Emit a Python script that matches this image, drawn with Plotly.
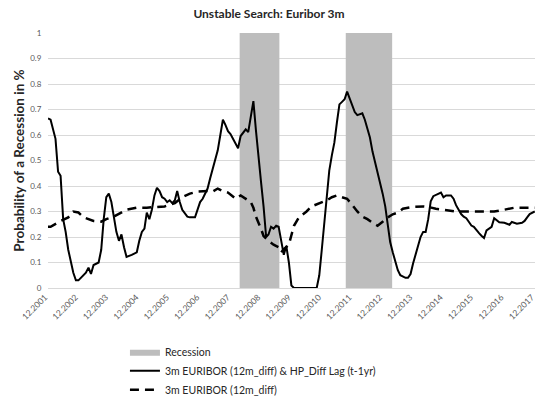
import plotly.graph_objects as go

# ---- data ----
solid_dates = [
    "2001-12", "2002-01", "2002-03", "2002-04", "2002-05", "2002-06", "2002-07", "2002-08",
    "2002-10", "2002-11", "2002-12", "2003-02", "2003-03", "2003-04", "2003-05", "2003-06",
    "2003-08", "2003-09", "2003-10", "2003-11", "2003-12", "2004-01", "2004-02", "2004-03",
    "2004-04", "2004-05", "2004-06", "2004-07", "2004-09", "2004-11", "2004-12", "2005-01",
    "2005-02", "2005-03", "2005-04", "2005-05", "2005-06", "2005-07", "2005-08", "2005-09",
    "2005-10", "2005-11", "2005-12", "2006-01", "2006-02", "2006-03", "2006-04", "2006-05",
    "2006-07", "2006-08", "2006-10", "2006-11", "2006-12", "2007-01", "2007-03", "2007-04",
    "2007-05", "2007-07", "2007-08", "2007-09", "2007-10", "2007-11", "2007-12", "2008-02",
    "2008-03", "2008-04", "2008-06", "2008-07", "2008-08", "2008-09", "2008-10", "2008-11",
    "2008-12", "2009-01", "2009-02", "2009-03", "2009-04", "2009-05", "2009-06", "2009-07",
    "2009-08", "2009-09", "2009-10", "2009-11", "2009-12", "2010-01", "2010-10", "2010-11",
    "2010-12", "2011-01", "2011-02", "2011-03", "2011-04", "2011-05", "2011-06", "2011-07",
    "2011-08", "2011-09", "2011-10", "2011-11", "2011-12", "2012-01", "2012-02", "2012-03",
    "2012-04", "2012-05", "2012-06", "2012-07", "2012-08", "2012-09", "2012-10", "2012-11",
    "2012-12", "2013-01", "2013-02", "2013-03", "2013-04", "2013-05", "2013-06", "2013-07",
    "2013-08", "2013-09", "2013-10", "2013-11", "2013-12", "2014-01", "2014-02", "2014-03",
    "2014-04", "2014-05", "2014-06", "2014-07", "2014-08", "2014-09", "2014-10", "2014-11",
    "2014-12", "2015-01", "2015-03", "2015-04", "2015-05", "2015-06", "2015-07", "2015-08",
    "2015-09", "2015-10", "2015-11", "2015-12", "2016-01", "2016-02", "2016-03", "2016-04",
    "2016-05", "2016-06", "2016-07", "2016-08", "2016-09", "2016-10", "2016-12", "2017-02",
    "2017-03", "2017-05", "2017-07", "2017-08", "2017-09", "2017-10", "2017-12",
]
solid_values = [
    0.665, 0.66, 0.585, 0.456, 0.44, 0.27, 0.22, 0.15,
    0.06, 0.03, 0.03, 0.05, 0.06, 0.08, 0.055, 0.09,
    0.10, 0.15, 0.27, 0.356, 0.37, 0.337, 0.27, 0.22,
    0.185, 0.21, 0.16, 0.122, 0.13, 0.14, 0.185, 0.22,
    0.233, 0.296, 0.27, 0.307, 0.363, 0.393, 0.38, 0.356,
    0.35, 0.337, 0.344, 0.333, 0.344, 0.38, 0.337, 0.307,
    0.28, 0.277, 0.277, 0.307, 0.337, 0.35, 0.39, 0.43,
    0.467, 0.54, 0.60, 0.66, 0.64, 0.615, 0.604, 0.567,
    0.548, 0.596, 0.622, 0.611, 0.678, 0.733, 0.62, 0.53,
    0.418, 0.32, 0.20, 0.21, 0.24, 0.233, 0.244, 0.24,
    0.18, 0.13, 0.165, 0.10, 0.01, 0.0, 0.0, 0.05,
    0.15, 0.25, 0.37, 0.46, 0.52, 0.57, 0.65, 0.72,
    0.73, 0.74, 0.77, 0.74, 0.715, 0.69, 0.678, 0.68,
    0.685, 0.66, 0.625, 0.59, 0.535, 0.495, 0.45, 0.41,
    0.37, 0.32, 0.25, 0.18, 0.14, 0.11, 0.07, 0.05,
    0.045, 0.04, 0.04, 0.055, 0.096, 0.13, 0.17, 0.20,
    0.22, 0.22, 0.27, 0.34, 0.36, 0.365, 0.37, 0.374,
    0.356, 0.363, 0.363, 0.35, 0.325, 0.305, 0.29, 0.28,
    0.274, 0.26, 0.245, 0.24, 0.226, 0.215, 0.205, 0.196,
    0.226, 0.233, 0.24, 0.274, 0.265, 0.258, 0.256, 0.248,
    0.259, 0.252, 0.256, 0.263, 0.277, 0.29, 0.30,
]

dashed_dates = [
    "2001-12", "2002-01", "2002-05", "2002-08", "2002-10", "2002-12", "2003-02", "2003-04",
    "2003-06", "2003-09", "2003-11", "2004-02", "2004-05", "2004-07", "2004-11", "2005-03",
    "2005-07", "2005-10", "2006-02", "2006-05", "2006-08", "2006-11", "2007-03", "2007-05",
    "2007-07", "2007-09", "2007-11", "2008-02", "2008-04", "2008-06", "2008-08", "2008-09",
    "2008-10", "2008-12", "2009-01", "2009-03", "2009-05", "2009-07", "2009-08", "2009-09",
    "2009-11", "2009-12", "2010-01", "2010-03", "2010-06", "2010-08", "2010-11", "2011-02",
    "2011-04", "2011-06", "2011-08", "2011-10", "2011-12", "2012-02", "2012-04", "2012-06",
    "2012-08", "2012-10", "2012-12", "2013-02", "2013-04", "2013-06", "2013-08", "2013-12",
    "2014-04", "2014-06", "2014-09", "2015-01", "2015-05", "2015-09", "2015-12", "2016-04",
    "2016-08", "2016-12", "2017-04", "2017-08", "2017-12",
]
dashed_values = [
    0.24, 0.24, 0.263, 0.277, 0.30, 0.296, 0.277, 0.27,
    0.263, 0.26, 0.27, 0.28, 0.296, 0.307, 0.315, 0.315,
    0.318, 0.32, 0.333, 0.356, 0.37, 0.378, 0.38, 0.378,
    0.39, 0.38, 0.374, 0.35, 0.363, 0.35, 0.337, 0.315,
    0.28, 0.233, 0.204, 0.185, 0.17, 0.16, 0.14, 0.152,
    0.17, 0.207, 0.244, 0.277, 0.30, 0.32, 0.333, 0.344,
    0.356, 0.363, 0.356, 0.35, 0.326, 0.30, 0.28, 0.27,
    0.256, 0.244, 0.26, 0.277, 0.289, 0.296, 0.311, 0.318,
    0.32, 0.318, 0.311, 0.304, 0.30, 0.30, 0.30, 0.30,
    0.30, 0.307, 0.315, 0.315, 0.315,
]

recession_starts = ["2008-03-20", "2011-09-15"]
recession_ends = ["2009-07-10", "2013-03-25"]

title_text = "Unstable Search: Euribor 3m"
y_title = "Probability of a Recession in %"
name_recession = "Recession"
name_solid = "3m EURIBOR (12m_diff) & HP_Diff Lag (t-1yr)"
name_dashed = "3m EURIBOR (12m_diff)"

# ---- build recession polygons ----
rx, ry = [], []
for s, e in zip(recession_starts, recession_ends):
    rx += [s, s, e, e, s, None]
    ry += [0, 1, 1, 0, 0, None]

FONT = "Lato, 'Open Sans', sans-serif"

fig = go.Figure()
fig.add_trace(go.Scatter(
    x=rx, y=ry, mode="lines", fill="toself", fillcolor="#bdbdbd",
    line=dict(width=0, color="#bdbdbd"), name=name_recession, hoverinfo="skip",
))
fig.add_trace(go.Scatter(
    x=solid_dates, y=solid_values, mode="lines", name=name_solid,
    line=dict(color="black", width=2),
))
fig.add_trace(go.Scatter(
    x=dashed_dates, y=dashed_values, mode="lines", name=name_dashed,
    line=dict(color="black", width=2.5, dash="9px,6px"),
))

fig.update_layout(
    width=538, height=407,
    margin=dict(l=48, r=3, t=33, b=104),
    paper_bgcolor="white", plot_bgcolor="white",
    font=dict(family=FONT, color="#404040"),
    title=dict(text="<b>" + title_text + "</b>", x=0.5, xanchor="center",
               y=0.965, yanchor="middle", font=dict(size=12, color="#262626")),
    showlegend=True,
    legend=dict(
        orientation="v", x=0.158, xanchor="left", y=-0.193, yanchor="top",
        font=dict(size=10.5, color="#262626"), itemwidth=30, tracegroupgap=0,
        bgcolor="rgba(0,0,0,0)",
    ),
    xaxis=dict(
        type="date", range=["2001-12-01", "2017-12-04"],
        tick0="2001-12-01", dtick="M12", tickformat="%m.%Y",
        tickangle=-45, tickfont=dict(size=8.5, color="#595959"),
        ticklabeloverflow="allow", ticklabelshift=-3,
        showgrid=False, showline=True, linecolor="#d9d9d9", linewidth=1,
        ticks="", zeroline=False, automargin=False,
    ),
    yaxis=dict(
        range=[0, 1], dtick=0.1, tick0=0,
        tickfont=dict(size=8, color="#595959"),
        showgrid=True, gridcolor="#d9d9d9", gridwidth=1,
        zeroline=False, showline=False,
        ticks="outside", ticklen=4, tickcolor="rgba(0,0,0,0)",
        title=dict(text="<b>" + y_title + "</b>", font=dict(size=13.5, color="#262626"),
                   standoff=2),
    ),
)

fig.write_html(
    "out.html",
    config={"displayModeBar": False},
    post_script="document.body.style.margin='0';document.body.style.overflow='hidden';",
)
